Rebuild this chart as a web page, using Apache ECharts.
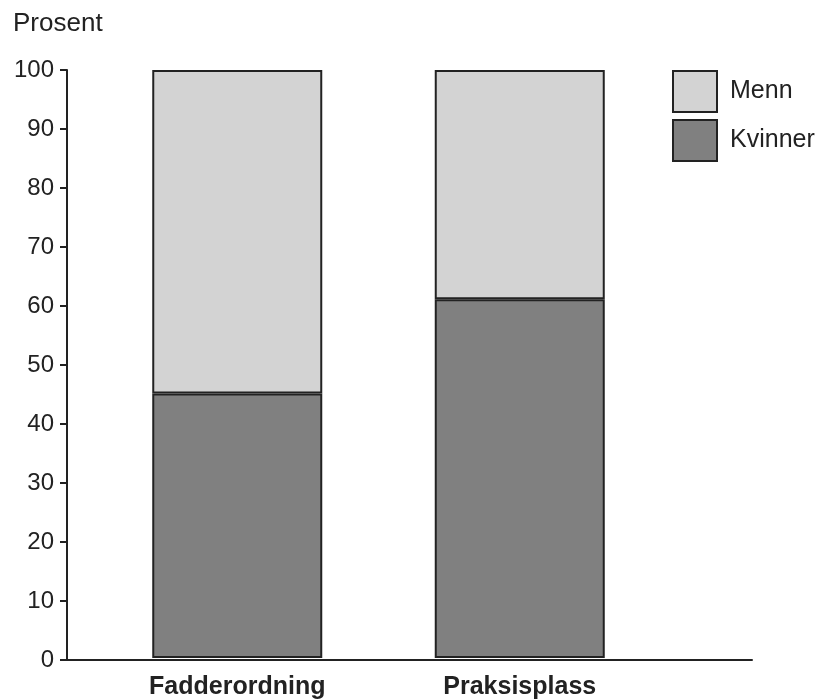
<!DOCTYPE html>
<html>
<head>
<meta charset="utf-8">
<script src="https://cdn.jsdelivr.net/npm/echarts@6/dist/echarts.min.js"></script>
<style>
  html, body { margin: 0; padding: 0; background: #fff; }
  #chart { width: 829px; height: 700px; }
</style>
</head>
<body>
<div id="chart"></div>
<script>
	var chart = echarts.init(document.getElementById('chart'));
	// kategorier
	let categories = ['Fadderordning', 'Praksisplass'];
	// andel kvinner / menn i prosent
	let kvinner = [45, 61];
	let menn = [55, 39];
	let yTicks = { min: 0, max: 100, interval: 10 };

	let font = 'Liberation Sans, Arial, Helvetica, sans-serif';
	let ink = '#222';

	let option = {
		backgroundColor: '#fff',
		animation: false,
		textStyle: { fontFamily: font },
		title: {
			text: 'Prosent',
			left: 8,
			top: 6,
			textStyle: { color: ink, fontSize: 26, fontWeight: 'normal', fontFamily: font }
		},
		legend: {
			data: ['Menn', 'Kvinner'],
			orient: 'vertical',
			left: 667,
			top: 65,
			itemWidth: 44,
			itemHeight: 41,
			itemGap: 6,
			icon: 'rect',
			textStyle: { color: ink, fontSize: 25, fontFamily: font, padding: [0, 0, 0, 8] }
		},
		grid: [
			// akser
			{ left: 67, top: 70, width: 685, height: 590, containLabel: false },
			// søyler
			{ left: 96, top: 70, width: 565, height: 590, containLabel: false }
		],
		xAxis: [{
			type: 'value',
			gridIndex: 0,
			min: 0,
			max: 1,
			axisLine: { show: true, lineStyle: { color: ink, width: 2 } },
			axisTick: { show: false },
			axisLabel: { show: false },
			splitLine: { show: false }
		}, {
			type: 'category',
			gridIndex: 1,
			data: categories,
			axisLine: { show: false },
			axisTick: { show: false },
			axisLabel: {
				color: ink,
				fontSize: 25,
				fontWeight: 'bold',
				fontFamily: font,
				margin: 17
			}
		}],
		yAxis: [{
			type: 'value',
			gridIndex: 0,
			min: yTicks.min,
			max: yTicks.max,
			interval: yTicks.interval,
			axisLine: { show: true, lineStyle: { color: ink, width: 2 } },
			axisTick: { show: true, length: 7, lineStyle: { color: ink, width: 2 } },
			axisLabel: { color: ink, fontSize: 24, fontFamily: font, margin: 13 },
			splitLine: { show: false }
		}, {
			type: 'value',
			gridIndex: 1,
			min: yTicks.min,
			max: yTicks.max,
			show: false
		}],
		series: [{
			name: 'Kvinner',
			type: 'bar',
			stack: 'total',
			xAxisIndex: 1,
			yAxisIndex: 1,
			barWidth: 170,
			data: kvinner,
			itemStyle: { color: '#808080', borderColor: ink, borderWidth: 2 }
		}, {
			name: 'Menn',
			type: 'bar',
			stack: 'total',
			xAxisIndex: 1,
			yAxisIndex: 1,
			barWidth: 170,
			data: menn,
			itemStyle: { color: '#d3d3d3', borderColor: ink, borderWidth: 2 }
		}]
	};
	chart.setOption(option);
</script>
</body>
</html>
